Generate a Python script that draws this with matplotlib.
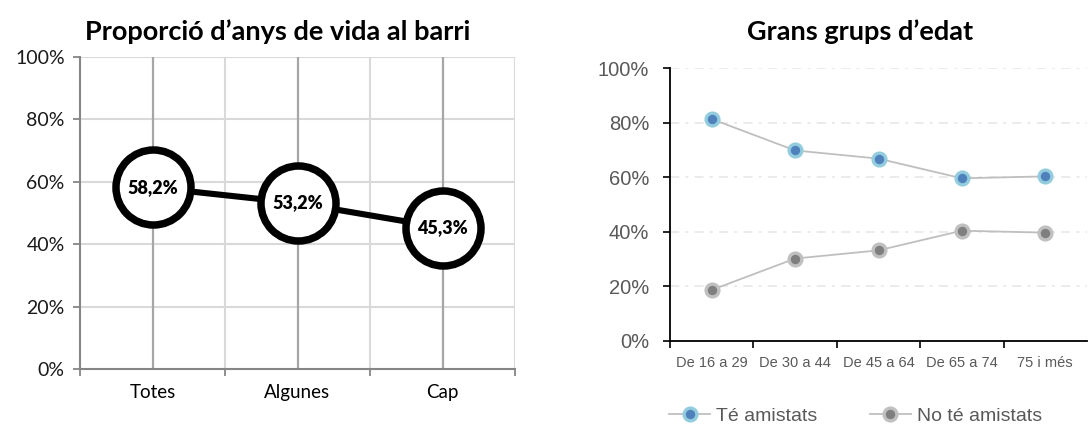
import matplotlib.pyplot as plt
import numpy as np
from matplotlib.ticker import FixedLocator

# Proporció d'anys de vida al barri
anys_cats = ["Totes", "Algunes", "Cap"]
anys_vals = [58.2, 53.2, 45.3]

# Grans grups d'edat
edat_cats = ["De 16 a 29", "De 30 a 44", "De 45 a 64", "De 65 a 74", "75 i més"]
te_amistats = [81.3, 69.8, 66.8, 59.6, 60.3]
no_te_amistats = [18.7, 30.2, 33.2, 40.4, 39.7]

pct_ticks = [0, 20, 40, 60, 80, 100]

fig = plt.figure(figsize=(10.91, 4.30), dpi=100)

# ---- left panel ----
ax1 = fig.add_axes([80 / 1091, 1 - 369 / 430, 435 / 1091, 312 / 430])
x1 = np.arange(len(anys_cats))
ax1.set_xlim(-0.5, len(anys_cats) - 0.5)
ax1.set_ylim(0, 100)

for y in pct_ticks[1:]:
    ax1.axhline(y, color="#d9d9d9", lw=1.5, zorder=0)
for xb in np.arange(0.5, len(anys_cats), 1.0):
    ax1.axvline(xb, color="#d9d9d9", lw=1.5, zorder=0)
for xc in x1:
    ax1.axvline(xc, color="#a6a6a6", lw=1.6, zorder=0)

ax1.plot(x1, anys_vals, color="black", lw=4.4, marker="o", ms=54,
         mfc="white", mec="black", mew=5.4, zorder=3)
for xi, v in zip(x1, anys_vals):
    ax1.text(xi, v, f"{v:.1f}%".replace(".", ","), ha="center", va="center",
             fontsize=13, fontweight="heavy", family="Lato", zorder=4)

ax1.yaxis.set_major_locator(FixedLocator(pct_ticks))
ax1.set_yticklabels([f"{t}%" for t in pct_ticks], family="Lato", fontsize=14,
                    color="#1a1a1a")
ax1.set_xticks(np.arange(-0.5, len(anys_cats), 1.0))
ax1.set_xticklabels([])
ax1.set_xticks(x1, minor=True)
ax1.set_xticklabels(anys_cats, minor=True, family="Lato", fontsize=13.5)
ax1.tick_params(axis="x", which="minor", length=0, pad=11)
ax1.tick_params(axis="x", which="major", length=5, color="#868686", width=1.3)
ax1.tick_params(axis="y", length=5, color="#868686", width=1.3, pad=6)
for s in ["top", "right"]:
    ax1.spines[s].set_visible(False)
for s in ["left", "bottom"]:
    ax1.spines[s].set_color("#868686")
    ax1.spines[s].set_linewidth(1.5)
ax1.set_title("Proporció d’anys de vida al barri", family="Lato", fontweight="bold",
              fontsize=19.5, pad=12, x=0.454)

# ---- right panel ----
ax2 = fig.add_axes([670 / 1091, 1 - 341 / 430, 417 / 1091, 273 / 430])
x2 = np.arange(len(edat_cats))
ax2.set_xlim(-0.5, len(edat_cats) - 0.5)
ax2.set_ylim(0, 100)
for y in pct_ticks[1:]:
    ax2.axhline(y, color="#e6e6e6", lw=1.1, ls=(0, (6, 4, 2, 4)), zorder=0)

ax2.plot(x2, te_amistats, color="#bfbfbf", lw=1.3, marker="o", ms=9.2,
         mfc="#4f81bd", mec="#93cddd", mew=2.4, label="Té amistats", zorder=3)
ax2.plot(x2, no_te_amistats, color="#bfbfbf", lw=1.3, marker="o", ms=9.2,
         mfc="#7f7f7f", mec="#c0c0c0", mew=2.4, label="No té amistats", zorder=3)

ax2.yaxis.set_major_locator(FixedLocator(pct_ticks))
ax2.set_yticklabels([f"{t}%" for t in pct_ticks], family="Liberation Sans",
                    fontsize=14.5, color="#595959")
ax2.set_xticks(np.arange(-0.5, len(edat_cats) - 0.5, 1.0))
ax2.set_xticklabels([])
ax2.set_xticks(x2, minor=True)
ax2.set_xticklabels(edat_cats, minor=True, family="Liberation Sans", fontsize=10.5,
                    color="#595959")
ax2.tick_params(axis="x", which="minor", length=0, pad=11)
ax2.tick_params(axis="x", which="major", length=5, width=1.2)
ax2.tick_params(axis="y", length=5, width=1.2, pad=10)
for s in ["top", "right"]:
    ax2.spines[s].set_visible(False)
for s in ["left", "bottom"]:
    ax2.spines[s].set_linewidth(1.3)
ax2.set_title("Grans grups d’edat", family="Lato", fontweight="bold",
              fontsize=19.5, pad=20, x=0.455)

leg = ax2.legend(loc="center", bbox_to_anchor=(0.445, -0.275), ncol=2, frameon=False,
                 prop={"family": "Liberation Sans", "size": 14},
                 handlelength=2.1, handletextpad=0.3, columnspacing=2.7)
for t in leg.get_texts():
    t.set_color("#595959")

fig.savefig("out.png", dpi=100)
